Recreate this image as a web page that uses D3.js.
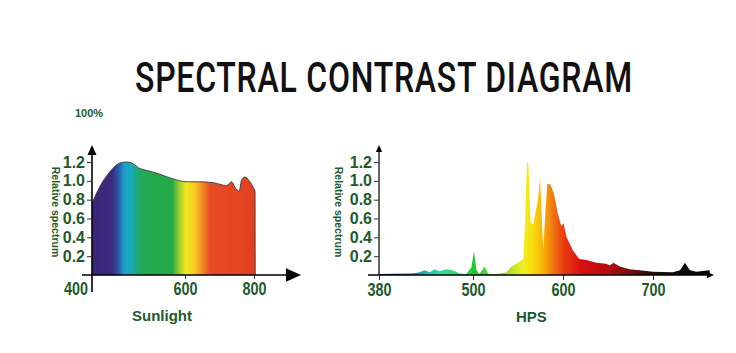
<!DOCTYPE html>
<html>
<head>
<meta charset="utf-8">
<script src="https://cdn.jsdelivr.net/npm/d3@7"></script>
<style>
  body { margin: 0; background: #fff; }
  svg { display: block; }
</style>
</head>
<body>
<svg id="chart"></svg>
<script>
// sunlight spectrum
var sunWl  = [400, 417, 439, 460, 475, 485, 503, 518, 546, 575, 605, 643, 682, 721, 735, 745, 757, 764, 774, 784, 798, 803];
var sunVal = [0.76, 0.94, 1.10, 1.19, 1.20, 1.19, 1.13, 1.11, 1.07, 1.02, 0.99, 0.99, 0.98, 0.95, 0.99, 0.93, 0.89, 1.01, 1.04, 1.01, 0.93, 0.89];

// HPS lamp spectrum
var hpsWl  = [380, 423, 432, 438, 445, 451, 457, 466, 474, 483, 491, 498, 501, 504, 507, 513, 517, 526, 537, 543, 550, 556, 558, 560, 561.5, 564, 567, 572, 574.5, 576.5, 578, 580, 582.5, 586, 590, 594, 598, 600.5, 604, 611, 618, 626, 637, 648, 652, 656, 663, 674, 685, 700, 722, 730, 735.5, 741, 748, 763];
var hpsVal = [0.01, 0.015, 0.03, 0.05, 0.03, 0.06, 0.04, 0.06, 0.05, 0.015, 0.01, 0.08, 0.25, 0.05, 0.01, 0.09, 0.01, 0.01, 0.03, 0.09, 0.13, 0.17, 0.6, 1.2, 1.18, 0.55, 0.54, 0.79, 1.03, 0.6, 0.28, 0.6, 0.97, 0.96, 0.86, 0.66, 0.52, 0.55, 0.4, 0.26, 0.17, 0.16, 0.13, 0.12, 0.1, 0.13, 0.09, 0.06, 0.05, 0.035, 0.03, 0.05, 0.13, 0.05, 0.035, 0.05];

var yTicks = [0.2, 0.4, 0.6, 0.8, 1.0, 1.2];
var sunTicks = [600, 800];
var hpsTicks = [380, 500, 600, 700];

// colour stops along wavelength
var sunStops = [[400, '#3b2477'], [443, '#3b2a80'], [456, '#2c55a8'], [469, '#1a9ec8'], [484, '#1aa8c0'], [499, '#20a870'], [514, '#22a850'], [572, '#22aa48'], [589, '#a8d030'], [603, '#f0e820'], [626, '#f8d020'], [649, '#f09028'], [672, '#e84c24'], [803, '#e04020']];
var hpsStops = [[380, '#1c2490'], [415, '#1c3aa8'], [430, '#2090b8'], [445, '#20c8b0'], [465, '#30dc90'], [490, '#30d860'], [500, '#18c830'], [515, '#50d040'], [540, '#b0dc30'], [556, '#f0f020'], [565, '#f8e010'], [578, '#f8b008'], [590, '#f07010'], [602, '#e83810'], [620, '#d81010'], [650, '#b80810'], [675, '#780810'], [695, '#300808'], [715, '#101010'], [765, '#000000']];

var width = 736, height = 353;
var green = '#1e5a2a';

var svg = d3.select('#chart')
  .attr('width', width)
  .attr('height', height);

svg.append('rect').attr('width', width).attr('height', height).attr('fill', '#fff');

var defs = svg.append('defs');

// title, squeezed horizontally to the condensed look of the original
var title = svg.append('text')
  .attr('x', 0)
  .attr('y', 0)
  .style('font-family', 'Roboto, "Liberation Sans", sans-serif')
  .style('font-weight', 500)
  .style('font-size', '42px')
  .style('letter-spacing', '1px')
  .attr('fill', '#111')
  .text('SPECTRAL CONTRAST DIAGRAM');
var tLen = title.node().getComputedTextLength();
title.attr('transform', 'translate(135,92) scale(' + (498 / tLen) + ',1)');

svg.append('text')
  .attr('x', 75)
  .attr('y', 117)
  .attr('fill', green)
  .style('font-family', '"Liberation Sans", Arial, sans-serif')
  .style('font-weight', 'bold')
  .style('font-size', '11px')
  .text('100%');

var y = d3.scaleLinear().domain([0, 1.2]).range([275, 162]);

function gradient(id, x, stops) {
  var x0 = x(stops[0][0]), x1 = x(stops[stops.length - 1][0]);
  var g = defs.append('linearGradient')
    .attr('id', id)
    .attr('gradientUnits', 'userSpaceOnUse')
    .attr('x1', x0).attr('x2', x1)
    .attr('y1', 0).attr('y2', 0);
  g.selectAll('stop')
    .data(stops)
    .enter()
    .append('stop')
    .attr('offset', function(d) { return (x(d[0]) - x0) / (x1 - x0); })
    .attr('stop-color', function(d) { return d[1]; });
}

function arrow(g, tip, dir, size) {
  var s = size, h = size * 0.45, pts;
  if (dir === 'up') pts = [[tip[0], tip[1]], [tip[0] - h, tip[1] + s], [tip[0] + h, tip[1] + s]];
  else pts = [[tip[0], tip[1]], [tip[0] - s, tip[1] - h], [tip[0] - s, tip[1] + h]];
  g.append('path').attr('d', 'M' + pts.join('L') + 'Z').attr('fill', '#000');
}

function yAxis(g, x0, labelX) {
  var ax = g.append('g')
    .attr('transform', 'translate(' + x0 + ',0)')
    .call(d3.axisLeft(y).tickValues(yTicks).tickSize(5).tickPadding(2).tickFormat(d3.format('.1f')));
  ax.select('.domain').remove();
  ax.selectAll('line').attr('stroke', '#333');
  ax.selectAll('text')
    .attr('fill', green)
    .style('font-family', '"Liberation Sans", Arial, sans-serif')
    .style('font-weight', 'bold')
    .style('font-size', '16px');

  g.append('text')
    .attr('transform', 'translate(' + labelX + ',212) rotate(90)')
    .attr('text-anchor', 'middle')
    .attr('dominant-baseline', 'middle')
    .attr('fill', green)
    .style('font-family', '"Liberation Sans", Arial, sans-serif')
    .style('font-weight', 'bold')
    .style('font-size', '10.5px')
    .text('Relative spectrum');
}

function styleX(ax) {
  ax.select('.domain').remove();
  ax.selectAll('line').attr('stroke', '#333');
  ax.selectAll('text')
    .attr('fill', green)
    .attr('textLength', 24)
    .attr('lengthAdjust', 'spacingAndGlyphs')
    .style('font-family', '"Liberation Sans", Arial, sans-serif')
    .style('font-weight', 'bold')
    .style('font-size', '18px');
}

// ---------- Sunlight ----------
var xs = d3.scaleLinear().domain([400, 600, 800]).range([92, 185, 254]);
gradient('sunGrad', xs, sunStops);

var sunData = sunWl.map(function(w, i) { return {wl: w, v: sunVal[i]}; });
sunData.push({wl: sunWl[sunWl.length - 1] + 0.5, v: 0});

var left = svg.append('g');

left.append('path')
  .datum(sunData)
  .attr('fill', 'url(#sunGrad)')
  .attr('d', d3.area()
    .x(function(d) { return xs(d.wl); })
    .y0(y(0))
    .y1(function(d) { return y(d.v); })
    .curve(d3.curveMonotoneX));

left.append('path')
  .datum(sunData)
  .attr('fill', 'none')
  .attr('stroke', '#3a3a3a')
  .attr('stroke-width', 0.9)
  .attr('d', d3.line()
    .x(function(d) { return xs(d.wl); })
    .y(function(d) { return y(d.v); })
    .curve(d3.curveMonotoneX));

var lx = left.append('g')
  .attr('transform', 'translate(0,' + y(0) + ')')
  .call(d3.axisBottom(xs).tickValues(sunTicks).tickSize(4).tickPadding(3).tickFormat(d3.format('d')));
styleX(lx);

left.append('text')
  .attr('x', 88)
  .attr('y', 282)
  .attr('dy', '0.71em')
  .attr('text-anchor', 'end')
  .attr('fill', green)
  .attr('textLength', 24)
  .attr('lengthAdjust', 'spacingAndGlyphs')
  .style('font-family', '"Liberation Sans", Arial, sans-serif')
  .style('font-weight', 'bold')
  .style('font-size', '18px')
  .text(400);

left.append('line').attr('x1', 82).attr('x2', 290).attr('y1', y(0)).attr('y2', y(0)).attr('stroke', '#000').attr('stroke-width', 1.6);
arrow(left, [301, y(0)], 'right', 15);
left.append('line').attr('x1', xs(400)).attr('x2', xs(400)).attr('y1', 292).attr('y2', 152).attr('stroke', '#000').attr('stroke-width', 1.6);
arrow(left, [xs(400), 145], 'up', 10);

yAxis(left, xs(400), 55);

left.append('text')
  .attr('x', 132)
  .attr('y', 321)
  .attr('fill', green)
  .style('font-family', '"Liberation Sans", Arial, sans-serif')
  .style('font-weight', 'bold')
  .style('font-size', '15px')
  .text('Sunlight');

// ---------- HPS ----------
var xh = d3.scaleLinear().domain([380, 500, 600, 700]).range([379, 473, 563, 653]);
gradient('hpsGrad', xh, hpsStops);

var hpsData = hpsWl.map(function(w, i) { return {wl: w, v: hpsVal[i]}; });

var right = svg.append('g');

right.append('path')
  .datum(hpsData)
  .attr('fill', 'url(#hpsGrad)')
  .attr('d', d3.area()
    .x(function(d) { return xh(d.wl); })
    .y0(y(0))
    .y1(function(d) { return y(d.v); }));

var rx = right.append('g')
  .attr('transform', 'translate(0,' + y(0) + ')')
  .call(d3.axisBottom(xh).tickValues(hpsTicks).tickSize(5).tickPadding(3).tickFormat(d3.format('d')));
styleX(rx);

right.append('line').attr('x1', 368).attr('x2', 710).attr('y1', y(0)).attr('y2', y(0)).attr('stroke', '#000').attr('stroke-width', 1.4);
arrow(right, [714, y(0)], 'right', 7);
right.append('line').attr('x1', xh(380)).attr('x2', xh(380)).attr('y1', y(0)).attr('y2', 150).attr('stroke', '#000').attr('stroke-width', 1.2);
arrow(right, [xh(380), 145], 'up', 7);

yAxis(right, xh(380), 338);

right.append('text')
  .attr('x', 516)
  .attr('y', 322)
  .attr('fill', green)
  .style('font-family', '"Liberation Sans", Arial, sans-serif')
  .style('font-weight', 'bold')
  .style('font-size', '15px')
  .text('HPS');
</script>
</body>
</html>
